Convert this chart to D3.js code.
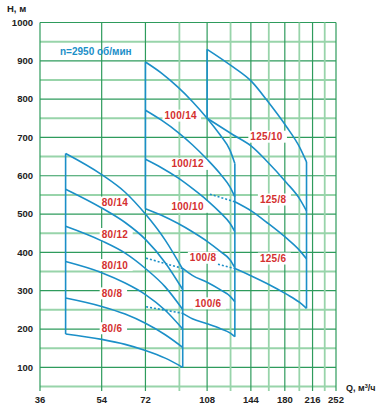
<!DOCTYPE html>
<html>
<head>
<meta charset="utf-8">
<script src="https://cdnjs.cloudflare.com/ajax/libs/d3/7.8.5/d3.min.js"></script>
<style>
body { margin: 0; background: #fff; }
svg text { font-family: "Liberation Sans", Arial, sans-serif; font-weight: bold; }
</style>
</head>
<body>
<div id="chart"></div>
<script>
// axis ticks
const xTicks = [36, 54, 72, 108, 144, 180, 216, 252];
const xGrid = [36, 54, 72, 90, 108, 126, 144, 162, 180, 198, 216, 234, 252];
const yTicks = [100, 200, 300, 400, 500, 600, 700, 800, 900, 1000];

// pump 80 (Q, H)
const p80_14 = [[42.6, 658], [54, 603], [63, 557], [72, 500], [82, 432], [92, 356]];
const p80_12 = [[42.6, 565], [54, 516], [63, 478], [72, 434], [82, 373], [92, 303]];
const p80_10 = [[42.6, 468], [54, 430], [63, 398], [72, 358], [82, 310], [92, 251]];
const p80_8 = [[42.6, 376], [54, 347], [63, 320], [72, 290], [82, 249], [92, 200]];
const p80_6 = [[42.6, 281], [54, 259], [63, 239], [72, 215], [82, 185], [92, 152]];
const p80_4 = [[42.6, 187], [54, 173], [63, 160], [72, 144], [82, 124], [92, 100]];

// pump 100
const p100_14 = [[72, 897], [80, 868], [89, 832], [98, 794], [108, 750], [118, 705], [125.5, 667], [129.6, 632]];
const p100_12 = [[72, 771], [80, 745], [89, 714], [98, 681], [108, 643], [118, 604], [125.5, 571], [129.6, 545]];
const p100_10 = [[72, 643], [80, 621], [89, 595], [98, 567], [108, 536], [118, 503], [125.5, 476], [129.6, 454]];
const p100_8 = [[72, 514], [80, 497], [89, 476], [98, 454], [108, 429], [118, 402], [125.5, 381], [129.6, 360]];
const p100_6 = [[92, 358], [98, 340], [108, 322], [118, 302], [125.5, 286], [129.6, 271]];
const p100_4 = [[92, 241], [98, 227], [108, 214], [118, 201], [125.5, 190], [129.6, 180]];
const p100_6dash = [[72.3, 385], [92, 358]];
const p100_4dash = [[72.3, 258], [92, 241]];

// pump 125
const p125_10 = [[108, 930], [128, 884], [145, 845], [160, 797], [182, 728], [198, 676], [207.6, 636]];
const p125_8 = [[108, 750], [128, 707], [145, 676], [160, 638], [182, 582], [198, 541], [207.6, 508]];
const p125_6 = [[129.6, 532], [145, 507], [160, 478], [182, 437], [198, 406], [207.6, 383]];
const p125_4 = [[129.6, 358], [145, 338], [160, 319], [182, 291], [198, 270], [207.6, 254]];
const p125_6dash = [[110, 552], [129.6, 532]];
const p125_4dash = [[116, 369], [129.6, 358]];

const families = [
    { top: p80_14, bottom: p80_4, curves: [p80_14, p80_12, p80_10, p80_8, p80_6, p80_4], dashes: [] },
    { top: p100_14, bottom: p100_8, right: p100_4, curves: [p100_14, p100_12, p100_10, p100_8, p100_6, p100_4], dashes: [p100_6dash, p100_4dash] },
    { top: p125_10, bottom: p125_8, right: p125_4, curves: [p125_10, p125_8, p125_6, p125_4], dashes: [p125_6dash, p125_4dash] }
];

const labels = [
    { text: "80/14", q: 54, h: 530 }, { text: "80/12", q: 54, h: 448 }, { text: "80/10", q: 54, h: 367 },
    { text: "80/8", q: 54, h: 293 }, { text: "80/6", q: 54, h: 202 },
    { text: "100/14", q: 81.6, h: 757 }, { text: "100/12", q: 85.4, h: 631 }, { text: "100/10", q: 85.4, h: 519 },
    { text: "100/8", q: 96.4, h: 386 }, { text: "100/6", q: 99.7, h: 267 },
    { text: "125/10", q: 143.5, h: 702 }, { text: "125/8", q: 152.8, h: 538 }, { text: "125/6", q: 152.8, h: 384 }
];

const width = 387, height = 408;
const svg = d3.select("#chart").append("svg")
    .attr("width", width)
    .attr("height", height);

const x = d3.scaleLog().domain([36, 252]).range([40, 336]);
const y = d3.scaleLinear().domain([50, 1000]).range([386.5, 22.5]);

const dark = "#2e9b5c", light = "#98d4aa", blue = "#1b8fc8", red = "#d42f2f";

// horizontal grid
svg.append("g").selectAll("line")
    .data(y.ticks(19))
    .enter().append("line")
    .attr("x1", 40).attr("x2", 336)
    .attr("y1", d => y(d)).attr("y2", d => y(d))
    .attr("stroke", d => d % 100 === 0 && d !== 50 ? dark : light)
    .attr("stroke-width", d => d % 100 === 0 ? 1.2 : 2);

// vertical grid
svg.append("g").selectAll("line")
    .data(xGrid)
    .enter().append("line")
    .attr("x1", d => x(d)).attr("x2", d => x(d))
    .attr("y1", y(1000)).attr("y2", 391)
    .attr("stroke", d => xTicks.includes(d) ? dark : light)
    .attr("stroke-width", d => xTicks.includes(d) ? 1.2 : 1.8);

// labels
const lab = svg.append("g").selectAll("g")
    .data(labels)
    .enter().append("g")
    .attr("transform", d => `translate(${x(d.q)},${y(d.h)})`);
lab.append("rect")
    .attr("x", -2).attr("y", -6)
    .attr("width", d => d.text.length * 5.6 + 5).attr("height", 12)
    .attr("fill", "#fff");
lab.append("text")
    .attr("dy", "0.36em")
    .style("font-size", "10px")
    .style("letter-spacing", "0.3px")
    .attr("fill", red)
    .text(d => d.text);

// pump curves
const line = d3.line()
    .x(d => x(d[0]))
    .y(d => y(d[1]))
    .curve(d3.curveMonotoneX);

const curveG = svg.append("g")
    .attr("fill", "none")
    .attr("stroke", blue)
    .attr("stroke-width", 1.6);

families.forEach(f => {
    f.curves.forEach(c => curveG.append("path").attr("d", line(c)));
    f.dashes.forEach(c => curveG.append("path").attr("d", line(c)).attr("stroke-dasharray", "2,2"));
    const first = f.top[0], lastTop = f.top[f.top.length - 1];
    const low = f.right || f.bottom;
    const lastLow = low[low.length - 1];
    curveG.append("path").attr("d", d3.line()([[x(first[0]), y(first[1])], [x(first[0]), y(f.bottom[0][1])]]));
    curveG.append("path").attr("d", d3.line()([[x(lastTop[0]), y(lastTop[1])], [x(lastTop[0]), y(lastLow[1])]]));
});

// axis labels
svg.append("g").selectAll("text")
    .data(yTicks)
    .enter().append("text")
    .attr("x", 33).attr("y", d => y(d))
    .attr("dy", "0.35em")
    .attr("text-anchor", "end")
    .style("font-size", "9.5px")
    .attr("fill", "#222")
    .text(d => d);

svg.append("g").selectAll("text")
    .data(xTicks)
    .enter().append("text")
    .attr("x", d => x(d)).attr("y", 399.5)
    .attr("dy", "0.35em")
    .attr("text-anchor", "middle")
    .style("font-size", "9.5px")
    .attr("fill", "#222")
    .text(d => d);

svg.append("text")
    .attr("x", 7).attr("y", 8.5).attr("dy", "0.35em")
    .style("font-size", "9.5px").attr("fill", "#222")
    .text("H, м");

const qt = svg.append("text")
    .attr("x", 346).attr("y", 387.5).attr("dy", "0.35em")
    .style("font-size", "9px").attr("fill", "#222");
qt.append("tspan").text("Q, м");
qt.append("tspan").attr("dy", "-3").style("font-size", "5.5px").text("3");
qt.append("tspan").attr("dy", "3").text("/ч");

svg.append("text")
    .attr("x", 60).attr("y", 51.5).attr("dy", "0.35em")
    .style("font-size", "10px").attr("fill", blue)
    .text("n=2950 об/мин");
</script>
</body>
</html>
